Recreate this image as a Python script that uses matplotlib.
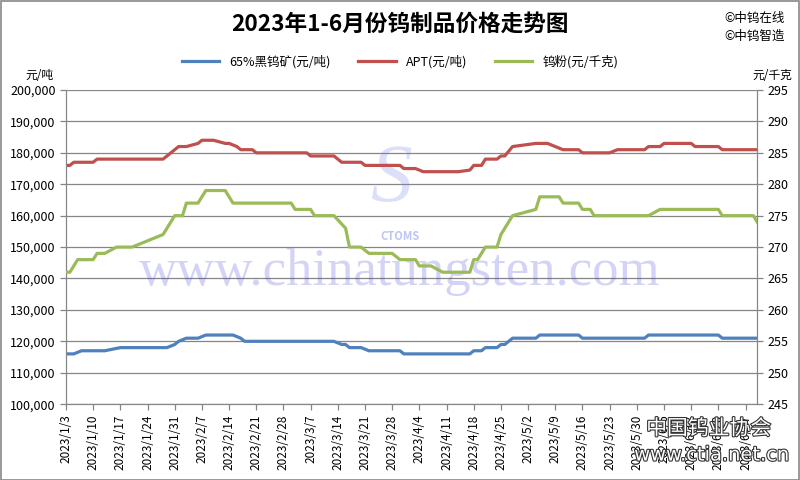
import datetime as dt
import matplotlib
matplotlib.use("Agg")
import matplotlib.pyplot as plt
import matplotlib.patheffects as pe
from matplotlib.ticker import FuncFormatter, MultipleLocator

plt.rcParams['font.family'] = ['Noto Sans CJK SC', 'DejaVu Sans']

title = "2023年1-6月份钨制品价格走势图"
labels = ["65%黑钨矿(元/吨)", "APT(元/吨)", "钨粉(元/千克)"]

# turning points (date, price)
ore_dates = ["1/3", "1/5", "1/7", "1/13", "1/17", "1/29", "1/31", "2/1", "2/3", "2/6",
             "2/8", "2/15", "2/17", "2/18", "3/13", "3/15", "3/16", "3/17", "3/20", "3/22",
             "3/30", "3/31", "4/17", "4/18", "4/20", "4/21", "4/24", "4/25", "4/26", "4/28",
             "5/4", "5/5", "5/15", "5/16", "6/1", "6/2", "6/20", "6/21", "6/30"]
ore_vals = [116000, 116000, 117000, 117000, 118000, 118000, 119000, 120000, 121000, 121000,
            122000, 122000, 121000, 120000, 120000, 119000, 119000, 118000, 118000, 117000,
            117000, 116000, 116000, 117000, 117000, 118000, 118000, 119000, 119000, 121000,
            121000, 122000, 122000, 121000, 121000, 122000, 122000, 121000, 121000]

apt_dates = ["1/3", "1/4", "1/5", "1/10", "1/11", "1/28", "2/1", "2/3", "2/6", "2/7",
             "2/10", "2/13", "2/14", "2/16", "2/17", "2/20", "2/21", "3/6", "3/7", "3/13",
             "3/15", "3/20", "3/21", "3/30", "3/31", "4/3", "4/5", "4/14", "4/17", "4/18",
             "4/20", "4/21", "4/24", "4/25", "4/26", "4/28", "5/4", "5/7", "5/9", "5/11",
             "5/15", "5/16", "5/23", "5/25", "6/1", "6/2", "6/5", "6/6", "6/13", "6/14",
             "6/20", "6/21", "6/30"]
apt_vals = [176000, 176000, 177000, 177000, 178000, 178000, 182000, 182000, 183000, 184000,
            184000, 183000, 183000, 182000, 181000, 181000, 180000, 180000, 179000, 179000,
            177000, 177000, 176000, 176000, 175000, 175000, 174000, 174000, 174500, 176000,
            176000, 178000, 178000, 179000, 179000, 182000, 183000, 183000, 182000, 181000,
            181000, 180000, 180000, 181000, 181000, 182000, 182000, 183000, 183000, 182000,
            182000, 181000, 181000]

powder_dates = ["1/3", "1/4", "1/6", "1/10", "1/11", "1/13", "1/16", "1/20", "1/28", "1/31",
                "2/2", "2/3", "2/6", "2/8", "2/13", "2/15", "3/2", "3/3", "3/7", "3/8",
                "3/13", "3/16", "3/17", "3/20", "3/22", "3/28", "3/30", "4/3", "4/4", "4/7",
                "4/10", "4/17", "4/18", "4/19", "4/21", "4/24", "4/25", "4/28", "5/4", "5/5",
                "5/10", "5/11", "5/15", "5/16", "5/18", "5/19", "6/2", "6/5", "6/20", "6/21",
                "6/29", "6/30"]
powder_vals = [266, 266, 268, 268, 269, 269, 270, 270, 272, 275,
               275, 277, 277, 279, 279, 277, 277, 276, 276, 275,
               275, 273, 270, 270, 269, 269, 268, 268, 267, 267,
               266, 266, 268, 268, 270, 270, 272, 275, 276, 278,
               278, 277, 277, 276, 276, 275, 275, 276, 276, 275,
               275, 274]


def to_dates(md):
    return [dt.date(2023, int(s.split("/")[0]), int(s.split("/")[1])) for s in md]


fig = plt.figure(figsize=(8, 4.8), dpi=100)
ax = fig.add_axes([0.0825, 0.158, 0.864, 0.6545])
ax2 = ax.twinx()

grid_c = "#868686"
ax.set_ylim(100000, 200000)
ax.yaxis.set_major_locator(MultipleLocator(10000))
ax.yaxis.set_major_formatter(FuncFormatter(lambda v, p: f"{int(v):,}"))
ax.grid(axis="y", color=grid_c, lw=0.9)
ax.set_axisbelow(True)
ax2.set_ylim(245, 295)
ax2.yaxis.set_major_locator(MultipleLocator(5))

start = dt.date(2023, 1, 3)
ax.set_xlim(start, dt.date(2023, 6, 30))
ticks = [start + dt.timedelta(days=7 * i) for i in range(26)]
ax.set_xticks(ticks)
ax.set_xticklabels([f"{d.year}/{d.month}/{d.day}" for d in ticks], rotation=90)

for a in (ax, ax2):
    for s in a.spines.values():
        s.set_color(grid_c)
    a.spines["top"].set_visible(False)
    a.tick_params(colors=grid_c, labelcolor="black", labelsize=9, length=4, width=0.9)
ax.tick_params(axis="x", labelsize=8.5)

# watermarks
ax.text(0.483, 0.42, "www.chinatungsten.com", transform=ax.transAxes, ha="center", va="center",
        fontsize=38, family="Liberation Serif", color="#3a3ae0", alpha=0.22, zorder=1)
ax.text(0.47, 0.71, "S", transform=ax.transAxes, ha="center", va="center",
        fontsize=60, style="italic", family="Liberation Serif", color="#7080e8", alpha=0.25, zorder=1)
ax.text(0.483, 0.535, "CTOMS", transform=ax.transAxes, ha="center", va="center",
        fontsize=8, style="italic", weight="bold", color="#5a6ee0", alpha=0.4, zorder=1)
fig.text(0.886, 0.107, "中国钨业协会", ha="center", va="center", fontsize=15, color="white",
         path_effects=[pe.withStroke(linewidth=1.6, foreground="#333333")], zorder=5)
fig.text(0.89, 0.052, "www.ctia.net.cn", ha="center", va="center", fontsize=14, color="white",
         family="DejaVu Sans", path_effects=[pe.withStroke(linewidth=1.6, foreground="#333333")],
         zorder=5)

l1, = ax.plot(to_dates(ore_dates), ore_vals, color="#4F81BD", lw=2.3, zorder=3)
l2, = ax.plot(to_dates(apt_dates), apt_vals, color="#C0504D", lw=2.3, zorder=3)
l3, = ax2.plot(to_dates(powder_dates), powder_vals, color="#9BBB59", lw=2.3, zorder=3)

fig.text(0.5, 0.95, title, ha="center", va="center", fontsize=16.3, weight="bold")
fig.text(0.905, 0.962, "©中钨在线", ha="left", va="center", fontsize=9)
fig.text(0.905, 0.925, "©中钨智造", ha="left", va="center", fontsize=9)
fig.text(0.032, 0.843, "元/吨", ha="left", va="center", fontsize=8.5)
fig.text(0.94, 0.843, "元/千克", ha="left", va="center", fontsize=8.5)
fig.legend([l1, l2, l3], labels, loc="center", bbox_to_anchor=(0.5, 0.872), ncol=3,
           frameon=False, fontsize=9, handlelength=3, columnspacing=2.2)

fig.patches.append(plt.Rectangle((0.001, 0.001), 0.998, 0.997, transform=fig.transFigure,
                                 fill=False, edgecolor="#888888", lw=1.2))
fig.savefig("out.png", dpi=100)
